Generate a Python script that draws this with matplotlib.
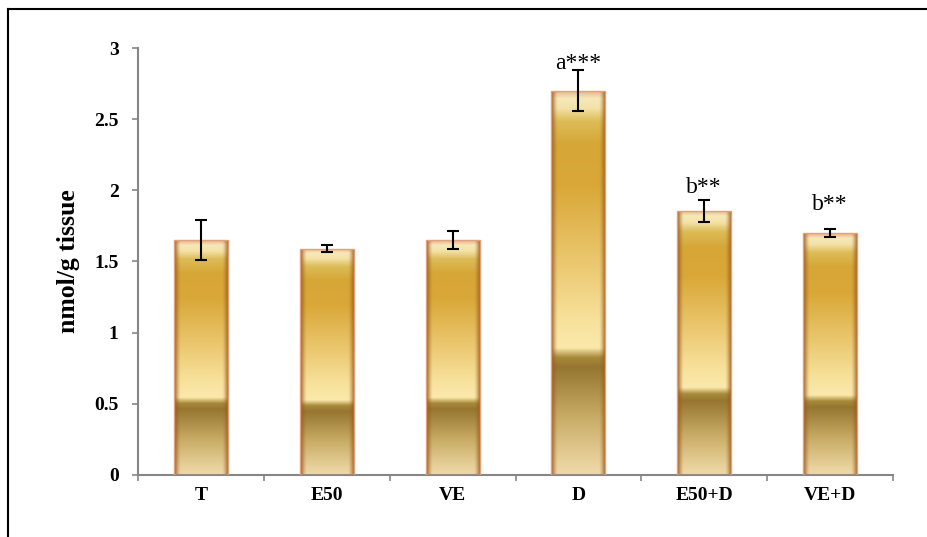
import numpy as np
import matplotlib
matplotlib.use("Agg")
import matplotlib.pyplot as plt
from matplotlib.lines import Line2D

# Datos del gráfico
grupos = ["T", "E50", "VE", "D", "E50+D", "VE+D"]
valores = [1.65, 1.59, 1.65, 2.70, 1.855, 1.70]
errores = [0.14, 0.025, 0.065, 0.145, 0.08, 0.025]
etiquetas = ["", "", "", "a***", "b**", "b**"]
# altura (en unidades del eje) de la línea base de cada etiqueta
altura_etiq = [0, 0, 0, 2.85, 1.98, 1.86]

plt.rcParams["font.family"] = ["Liberation Serif", "DejaVu Serif"]

fig = plt.figure(figsize=(9.28, 5.37), dpi=100)
ax = fig.add_axes([0.1487, 0.1155, 0.8136, 0.7951])

# Perfil vertical del degradado dorado (fracción de altura -> color)
perfil_pos = [0.0, 0.03, 0.15, 0.28, 0.305, 0.33, 0.40, 0.55, 0.75, 0.86, 0.92, 0.955, 0.98, 1.0]
perfil_col = ["#efd9ac", "#e9d29c", "#c8ac66", "#967630", "#a88a3a", "#fbe9ac", "#f7e29c",
              "#ebc870", "#d9a838", "#d6a636", "#dcbc58", "#f4e2a8", "#f6e8b8", "#e9b08a"]


def hex2rgb(c):
    return np.array([int(c[i:i + 2], 16) / 255 for i in (1, 3, 5)])


def degradado(nv=300, nh=60):
    t = np.linspace(0, 1, nv)
    cols = np.array([hex2rgb(c) for c in perfil_col])
    vert = np.stack([np.interp(t, perfil_pos, cols[:, k]) for k in range(3)], axis=1)
    u = np.linspace(0, 1, nh)
    # bordes laterales oscuros
    borde = np.clip(1 - np.minimum(u, 1 - u) / 0.12, 0, 1) ** 1.5
    marron = hex2rgb("#9a5a1c")
    img = vert[:, None, :] * (1 - borde[None, :, None]) + marron[None, None, :] * borde[None, :, None]
    return img[::-1]


ancho = 0.43
img = degradado()
x = np.arange(len(grupos))
barras = ax.bar(x, valores, width=ancho, facecolor="none", edgecolor="#e3a07c",
                linewidth=1.0, zorder=3)
for b, xi, v in zip(barras, x, valores):
    im = ax.imshow(img, extent=[xi - ancho / 2, xi + ancho / 2, 0, v],
                   aspect="auto", interpolation="bilinear", zorder=2)
    im.set_clip_path(b)

ax.errorbar(x, valores, yerr=errores, fmt="none", ecolor="black",
            elinewidth=1.5, capsize=4.5, capthick=1.5, zorder=4)

for xi, yt, t in zip(x, altura_etiq, etiquetas):
    if t:
        ax.text(xi, yt, t, ha="center", va="baseline", fontsize=17)

ax.set_xlim(-0.5, len(grupos) - 0.5)
ax.set_ylim(0, 3)
ax.set_yticks(np.arange(0, 3.01, 0.5))
ax.set_yticklabels(["0", "0.5", "1", "1.5", "2", "2.5", "3"], fontweight="bold", fontsize=14)
ax.set_xticks(np.arange(-0.5, len(grupos)))
ax.set_xticklabels([])
ax.set_xticks(x, minor=True)
ax.set_xticklabels(grupos, minor=True, fontweight="bold", fontsize=14)
ax.tick_params(axis="x", which="minor", length=0, pad=9)
ax.tick_params(axis="both", which="major", length=4, color="#868686", width=1.2)
ax.tick_params(axis="y", pad=10)
ax.set_ylabel("nmol/g tissue", fontweight="bold", fontsize=18.5, labelpad=10)

for s in ["top", "right"]:
    ax.spines[s].set_visible(False)
for s in ["left", "bottom"]:
    ax.spines[s].set_color("#868686")
    ax.spines[s].set_linewidth(1.5)

# marco exterior
fig.add_artist(Line2D([8.5 / 928, 8.5 / 928], [0, 1 - 9 / 537], color="black", lw=1.5))
fig.add_artist(Line2D([8.5 / 928, 1], [1 - 9 / 537, 1 - 9 / 537], color="black", lw=1.5))

fig.savefig("out.png", dpi=100)
